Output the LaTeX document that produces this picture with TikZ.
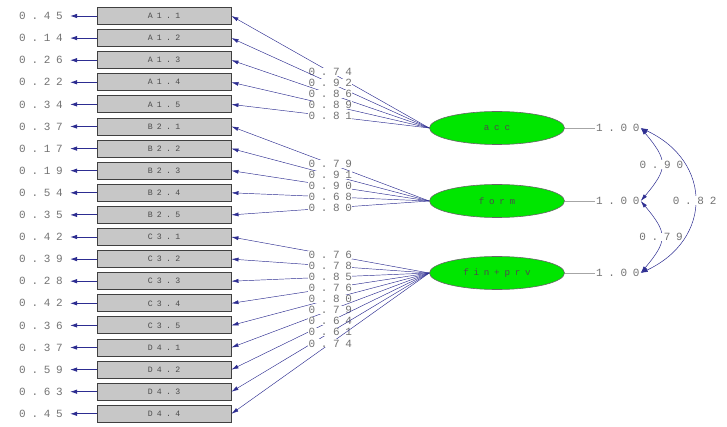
\documentclass[tikz,border=0pt]{standalone}
\usepackage{fontspec}
\newfontfamily\lisfont[LetterSpace=52]{Liberation Mono}
\usetikzlibrary{arrows.meta, positioning, shapes.geometric}
\definecolor{pathblue}{RGB}{45,45,145}
\definecolor{latgreen}{RGB}{0,230,0}

\begin{document}
\begin{tikzpicture}[
	x=1pt, y=1pt,
	obs/.style={draw=black!75, fill=black!22, line width=0.9pt, minimum width=134pt, minimum height=17pt, inner sep=0pt, font=\lisfont\fontsize{8.2}{8}\selectfont, text=black!70},
	lat/.style={ellipse, draw=black!60, fill=latgreen, line width=0.6pt, minimum width=135pt, minimum height=33pt, inner sep=0pt, font=\lisfont\fontsize{9.2}{9}\selectfont, text=black!70},
	val/.style={font=\lisfont\fontsize{11}{11}\selectfont, text=black!55, inner sep=1pt},
	lab/.style={val, fill=white, inner sep=0.3pt},
	load/.style={draw=pathblue, line width=0.45pt, -{Latex[length=7pt,width=4pt]}},
	errpath/.style={draw=pathblue, line width=0.9pt, -{Latex[length=7pt,width=4.5pt]}, shorten >=6pt},
	corr/.style={draw=pathblue, line width=0.5pt, {Latex[length=7pt,width=4pt]}-{Latex[length=7pt,width=4pt]}}
]

\useasboundingbox (0,0) rectangle (727,-427);

\def\rowgap{22.1}

% observed variables and error variances
\foreach \n/\t/\e [count=\i from 0] in {a1/A1.1/0.45, a2/A1.2/0.14, a3/A1.3/0.26, a4/A1.4/0.22, a5/A1.5/0.34,
	b1/B2.1/0.37, b2/B2.2/0.17, b3/B2.3/0.19, b4/B2.4/0.54, b5/B2.5/0.35,
	c1/C3.1/0.42, c2/C3.2/0.39, c3/C3.3/0.28, c4/C3.4/0.42, c5/C3.5/0.36,
	d1/D4.1/0.37, d2/D4.2/0.59, d3/D4.3/0.63, d4/D4.4/0.45} {
	\node[obs] (\n) at (164, -16-\rowgap*\i) {\t};
	\node[val, anchor=east] (e\n) at (64, -16-\rowgap*\i) {\e};
	\draw[errpath] (\n.west) -- (e\n.east);
}

% latent variables
\node[lat] (acc) at (497,-128) {acc};
\node[lat] (form) at (497,-201) {form};
\node[lat] (finprv) at (497,-273) {fin+prv};

% loadings
\foreach \v/\l in {a1/0.74, a2/0.92, a3/0.86, a4/0.89, a5/0.81}
	\draw[load] (acc.west) -- node[lab, pos=0.5] (l\v) {\l} (\v.east);
\foreach \v/\l in {b1/0.79, b2/0.91, b3/0.90, b4/0.68, b5/0.80}
	\draw[load] (form.west) -- node[lab, pos=0.5] (l\v) {\l} (\v.east);
\foreach \v/\l in {c1/0.76, c2/0.78, c3/0.85, c4/0.76, c5/0.80, d1/0.79, d2/0.64, d3/0.61, d4/0.74}
	\draw[load] (finprv.west) -- node[lab, pos=0.5] (l\v) {\l} (\v.east);

% variances of the factors
\foreach \f in {acc, form, finprv} {
	\node[val, anchor=west] (v\f) at ([xshift=30pt]\f.east) {1.00};
	\draw[black!35, line width=0.4pt] (\f.east) -- (v\f.west);
}

% correlations
\draw[corr] (vacc.east) to[out=-50, in=50, looseness=1.5] node[lab] (racf) {0.90} (vform.east);
\draw[corr] (vform.east) to[out=-50, in=50, looseness=1.5] node[lab] (rfp) {0.79} (vfinprv.east);
\draw[corr] (vacc.east) to[out=-25, in=25, looseness=1.4] node[lab] (racp) {0.82} (vfinprv.east);

\end{tikzpicture}
\end{document}
